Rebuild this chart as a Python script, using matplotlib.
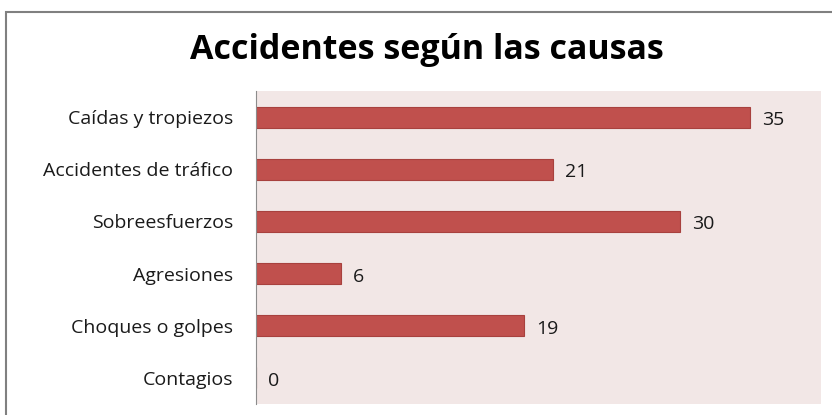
import matplotlib.pyplot as plt
from matplotlib.patches import Rectangle

causas = ['Caídas y tropiezos', 'Accidentes de tráfico', 'Sobreesfuerzos',
          'Agresiones', 'Choques o golpes', 'Contagios']
accidentes = [35, 21, 30, 6, 19, 0]

plt.rcParams['font.family'] = ['Open Sans', 'DejaVu Sans']

fig = plt.figure(figsize=(8.32, 4.15), dpi=100)
fig.patches.append(Rectangle((6 / 832, -0.05), 1.2, 1 - 12 / 415 + 0.05,
                             transform=fig.transFigure, fill=False,
                             edgecolor='#808080', linewidth=1.5))

ax = fig.add_axes([256 / 832, 11 / 415, (821 - 256) / 832, (404 - 91) / 415])
ax.set_facecolor('#F2E7E6')

y = list(range(len(causas)))
ax.barh(y, accidentes, height=0.4, color='#C0504D', edgecolor='#A8413E', linewidth=0.8)
for yi, v in zip(y, accidentes):
    ax.text(v + 0.85, yi + 0.02, str(v), va='center_baseline', ha='left', fontsize=14,
            color='#1a1a1a')

ax.set_xlim(0, 40)
ax.set_ylim(len(causas) - 0.5, -0.5)
ax.set_yticks(y)
ax.set_yticklabels(causas, fontsize=14, color='#1a1a1a')
ax.tick_params(axis='y', length=0, pad=16.5)
ax.set_xticks([])
for s in ['top', 'right', 'bottom']:
    ax.spines[s].set_visible(False)
ax.spines['left'].set_color('#8c8c8c')

fig.text(427 / 832, 1 - 50 / 415, 'Accidentes según las causas', ha='center', va='center',
         fontsize=24.5, fontweight='bold')

fig.savefig('out.png', dpi=100)
